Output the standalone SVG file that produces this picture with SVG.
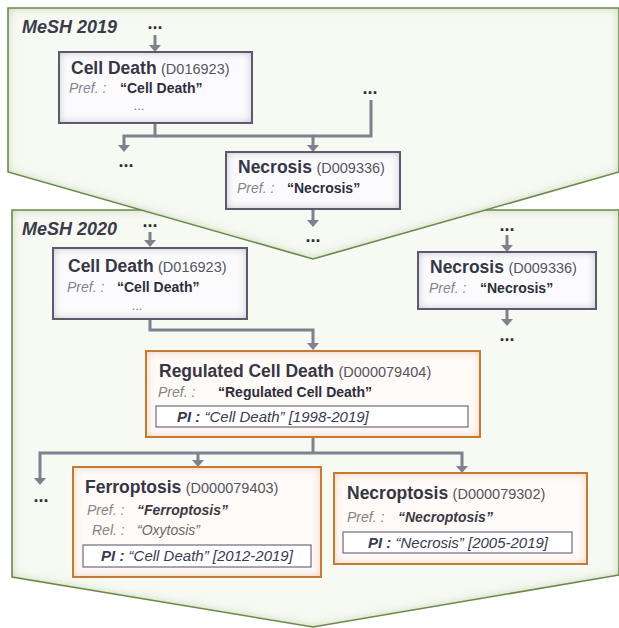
<svg xmlns="http://www.w3.org/2000/svg" width="619" height="628" viewBox="0 0 619 628">
<style>
text{font-family:"Liberation Sans",Arial,sans-serif}
.panel{fill:#f7f9f3}
.panelS{fill:none;stroke:#6b8a4a;stroke-width:1.6}
.ptitle{font-size:18px;font-weight:bold;font-style:italic;fill:#3b3b4b}
.gfill{fill:#fbfbfd}
.gstroke{fill:none;stroke:#5d5a6b;stroke-width:2}
.ofill{fill:#fefaf7}
.ostroke{fill:none;stroke:#c27a34;stroke-width:2}
.pibox{fill:#ffffff;stroke:#6e6a80;stroke-width:1.2}
.t{font-size:17.5px;font-weight:bold;fill:#363645}
.id{font-size:14.5px;font-weight:normal;fill:#555560}
.pref{font-size:14px;font-style:italic;fill:#85858a}
.q{font-size:14px;font-weight:bold;fill:#2e2e3a}
.qi{font-size:14px;font-weight:bold;font-style:italic;fill:#3a3a44}
.qr{font-size:14px;font-style:italic;fill:#6a6a70}
.pi{font-size:15px;font-style:italic;fill:#3a3a50}
.pib{font-weight:bold}
.dots{font-size:18px;font-weight:bold;fill:#2e2e3a;text-anchor:middle}
.sdots{font-size:13px;fill:#7a7a80;text-anchor:middle}
.conn{fill:none;stroke:#80808e;stroke-width:3;stroke-linejoin:miter}
.arr{marker-end:url(#ah)}
</style>
<defs>
<marker id="ah" viewBox="0 0 7 12" markerWidth="7" markerHeight="12" refX="3" refY="6" orient="auto" markerUnits="userSpaceOnUse">
<path d="M0,0 L7,6 L0,12 Z" fill="#80808e"/>
</marker>
<filter id="igP" x="-20%" y="-20%" width="140%" height="140%">
<feFlood flood-color="#bfd2a8" result="c"/>
<feComposite in="c" in2="SourceAlpha" operator="out" result="o"/>
<feGaussianBlur in="o" stdDeviation="5" result="b"/>
<feComposite in="b" in2="SourceAlpha" operator="in" result="g"/>
<feMerge><feMergeNode in="SourceGraphic"/><feMergeNode in="g"/></feMerge>
</filter>
<filter id="igB" x="-20%" y="-30%" width="140%" height="160%">
<feFlood flood-color="#b5b1c4" result="c"/>
<feComposite in="c" in2="SourceAlpha" operator="out" result="o"/>
<feGaussianBlur in="o" stdDeviation="4" result="b"/>
<feComposite in="b" in2="SourceAlpha" operator="in" result="g"/>
<feMerge><feMergeNode in="SourceGraphic"/><feMergeNode in="g"/></feMerge>
</filter>
<filter id="igO" x="-20%" y="-30%" width="140%" height="160%">
<feFlood flood-color="#ecc39c" result="c"/>
<feComposite in="c" in2="SourceAlpha" operator="out" result="o"/>
<feGaussianBlur in="o" stdDeviation="4" result="b"/>
<feComposite in="b" in2="SourceAlpha" operator="in" result="g"/>
<feMerge><feMergeNode in="SourceGraphic"/><feMergeNode in="g"/></feMerge>
</filter>
</defs>

<g id="panel-2020">
<polygon class="panel" filter="url(#igP)" points="12,210 619,210 619,575 313,627 12,577"/>
<polygon class="panelS" points="12,210 619,210 619,575 313,627 12,577"/>
<text class="ptitle" x="22" y="235">MeSH 2020</text>
</g>
<g id="panel-2019">
<polygon class="panel" filter="url(#igP)" points="8,8 619,8 619,172 313,259 8,172"/>
<polygon class="panelS" points="8,8 619,8 619,172 313,259 8,172"/>
<text class="ptitle" x="22" y="33">MeSH 2019</text>
</g>

<g id="connectors">
<path class="conn arr" d="M155,35 V48"/>
<path class="conn arr" d="M155,123 V136 H124 V148"/>
<path class="conn arr" d="M155,136 H313 V148"/>
<path class="conn" d="M371,100 V136 H313"/>
<path class="conn arr" d="M313,209 V223"/>
<path class="conn arr" d="M150,232 V243"/>
<path class="conn arr" d="M150,319 V330 H313 V346"/>
<path class="conn" d="M313,437 V453"/>
<path class="conn arr" d="M313,453 H40 V481"/>
<path class="conn arr" d="M198,453 V463"/>
<path class="conn arr" d="M313,453 H462 V469"/>
<path class="conn arr" d="M507,235 V248"/>
<path class="conn arr" d="M507,309 V322"/>
</g>

<g id="dots">
<text class="dots" x="155" y="29">...</text>
<text class="dots" x="370" y="94">...</text>
<text class="dots" x="126" y="167">...</text>
<text class="dots" x="313" y="242">...</text>
<text class="dots" x="150" y="227">...</text>
<text class="dots" x="507" y="231">...</text>
<text class="dots" x="507" y="341">...</text>
<text class="dots" x="41" y="502">...</text>
</g>

<g id="n-celldeath-2019">
<rect class="gfill" filter="url(#igB)" x="59" y="52" width="193" height="71"/>
<rect class="gstroke" x="59" y="52" width="193" height="71"/>
<text x="71" y="74"><tspan class="t">Cell Death</tspan> <tspan class="id">(D016923)</tspan></text>
<text class="pref" x="69" y="93">Pref. :</text>
<text class="q" x="120" y="93">“Cell Death”</text>
<text class="sdots" x="139" y="110">...</text>
</g>

<g id="n-necrosis-2019">
<rect class="gfill" filter="url(#igB)" x="226" y="152" width="174" height="57"/>
<rect class="gstroke" x="226" y="152" width="174" height="57"/>
<text x="238" y="173"><tspan class="t">Necrosis</tspan> <tspan class="id">(D009336)</tspan></text>
<text class="pref" x="237" y="193">Pref. :</text>
<text class="q" x="287" y="193">“Necrosis”</text>
</g>

<g id="n-celldeath-2020">
<rect class="gfill" filter="url(#igB)" x="53" y="248" width="194" height="71"/>
<rect class="gstroke" x="53" y="248" width="194" height="71"/>
<text x="68" y="272"><tspan class="t">Cell Death</tspan> <tspan class="id">(D016923)</tspan></text>
<text class="pref" x="67" y="292">Pref. :</text>
<text class="q" x="117" y="292">“Cell Death”</text>
<text class="sdots" x="137" y="310">...</text>
</g>

<g id="n-necrosis-2020">
<rect class="gfill" filter="url(#igB)" x="418" y="252" width="178" height="57"/>
<rect class="gstroke" x="418" y="252" width="178" height="57"/>
<text x="430" y="273"><tspan class="t">Necrosis</tspan> <tspan class="id">(D009336)</tspan></text>
<text class="pref" x="429" y="293">Pref. :</text>
<text class="q" x="480" y="293">“Necrosis”</text>
</g>

<g id="n-regulated">
<rect class="ofill" filter="url(#igO)" x="146" y="351" width="334" height="86"/>
<rect class="ostroke" x="146" y="351" width="334" height="86"/>
<text x="159" y="377"><tspan class="t">Regulated Cell Death</tspan> <tspan class="id">(D000079404)</tspan></text>
<text class="pref" x="158" y="397">Pref. :</text>
<text class="q" x="218" y="397">“Regulated Cell Death”</text>
<rect class="pibox" x="156" y="406" width="312" height="21"/>
<text class="pi" x="177" y="422"><tspan class="pib">PI :</tspan> “Cell Death” [1998-2019]</text>
</g>

<g id="n-ferroptosis">
<rect class="ofill" filter="url(#igO)" x="73" y="467" width="248" height="110"/>
<rect class="ostroke" x="73" y="467" width="248" height="110"/>
<text x="85" y="493"><tspan class="t">Ferroptosis</tspan> <tspan class="id">(D000079403)</tspan></text>
<text class="pref" x="87" y="515">Pref. :</text>
<text class="qi" x="137" y="515">“Ferroptosis”</text>
<text class="pref" x="92" y="535">Rel. :</text>
<text class="qr" x="137" y="535">“Oxytosis”</text>
<rect class="pibox" x="83" y="545" width="228" height="22"/>
<text class="pi" x="197" y="561" text-anchor="middle"><tspan class="pib">PI :</tspan> “Cell Death” [2012-2019]</text>
</g>

<g id="n-necroptosis">
<rect class="ofill" filter="url(#igO)" x="334" y="473" width="253" height="91"/>
<rect class="ostroke" x="334" y="473" width="253" height="91"/>
<text x="347" y="499"><tspan class="t">Necroptosis</tspan> <tspan class="id">(D000079302)</tspan></text>
<text class="pref" x="347" y="522">Pref. :</text>
<text class="qi" x="398" y="522">“Necroptosis”</text>
<rect class="pibox" x="343" y="532" width="229" height="21"/>
<text class="pi" x="458" y="548" text-anchor="middle"><tspan class="pib">PI :</tspan> “Necrosis” [2005-2019]</text>
</g>
</svg>
